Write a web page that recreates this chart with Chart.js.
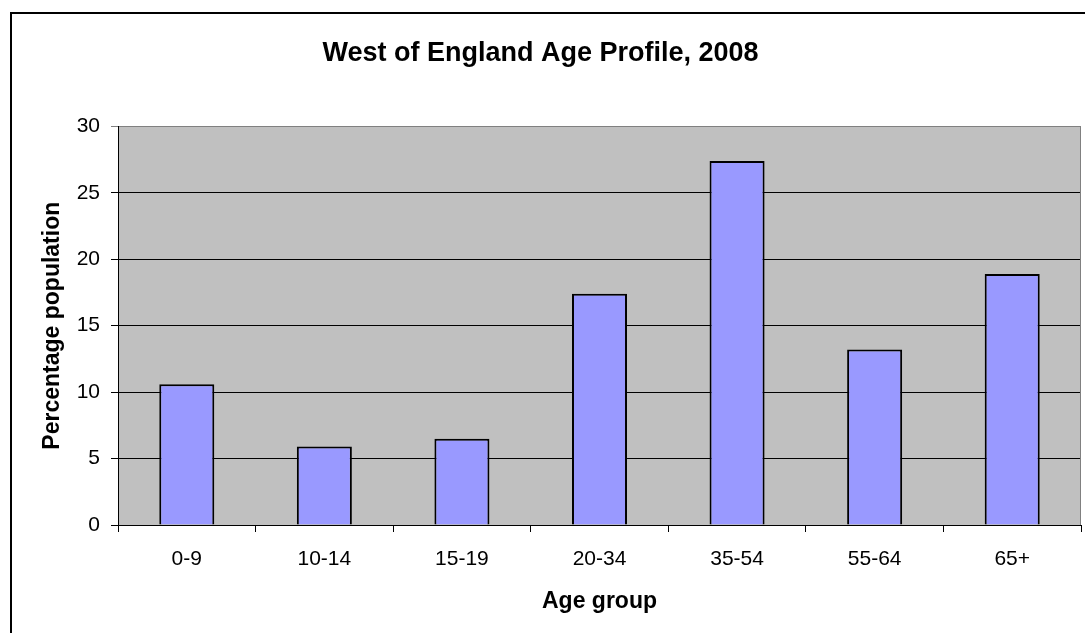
<!DOCTYPE html>
<html>
<head>
<meta charset="utf-8">
<script src="https://cdn.jsdelivr.net/npm/chart.js@4"></script>
<style>
  html, body { margin: 0; padding: 0; background: #fff; }
  #wrap { width: 1085px; height: 633px; }
</style>
</head>
<body>
<div id="wrap"><canvas id="ageChart"></canvas></div>
<script>
// data
const ageGroups = ["0-9", "10-14", "15-19", "20-34", "35-54", "55-64", "65+"];
const percentPopulation = [10.6, 5.9, 6.5, 17.4, 27.4, 13.2, 18.9];
const yTicks = { min: 0, max: 30, step: 5 };

const FONT = "Arial, 'Liberation Sans', sans-serif";

// grey plot background + outer frame, like the old office chart
const plotBackground = {
    id: "plotBackground",
    beforeDraw(chart) {
        const { ctx, chartArea: a } = chart;
        ctx.save();
        ctx.strokeStyle = "#000";
        ctx.lineWidth = 2;
        ctx.strokeRect(11, 13, 1200, 800);
        ctx.fillStyle = "#C0C0C0";
        ctx.fillRect(a.left, a.top, a.right - a.left, a.bottom - a.top);
        ctx.restore();
    },
    afterDatasetsDraw(chart) {
        const { ctx, chartArea: a } = chart;
        ctx.save();
        ctx.strokeStyle = "#808080";
        ctx.lineWidth = 1;
        ctx.beginPath();
        ctx.moveTo(a.right - 0.5, a.top);
        ctx.lineTo(a.right - 0.5, a.bottom);
        ctx.stroke();
        ctx.restore();
    },
};

new Chart(document.getElementById("ageChart"), {
    type: "bar",
    data: {
        labels: ageGroups,
        datasets: [
            {
                label: "Percentage population",
                data: percentPopulation,
                backgroundColor: "#9999FF",
                borderColor: "#000",
                borderWidth: 2,
                barPercentage: 0.4,
                categoryPercentage: 1,
            },
        ],
    },
    options: {
        responsive: true,
        maintainAspectRatio: false,
        animation: false,
        layout: { padding: { left: 0, right: 4, top: 0, bottom: 0 } },
        plugins: {
            legend: { display: false },
            tooltip: { enabled: false },
            title: {
                display: true,
                text: "West of England Age Profile, 2008",
                color: "#000",
                font: { family: FONT, size: 27, weight: "bold" },
                padding: { top: 37, bottom: 57 },
            },
        },
        scales: {
            x: {
                afterFit: (scale) => { scale.height = 108; },
                grid: {
                    drawOnChartArea: false,
                    color: "#000",
                    tickLength: 7,
                },
                border: { color: "#000", width: 1 },
                ticks: {
                    color: "#000",
                    font: { family: FONT, size: 21 },
                    padding: 15,
                },
                title: {
                    display: true,
                    text: "Age group",
                    color: "#000",
                    font: { family: FONT, size: 23, weight: "bold" },
                    padding: { top: 0, bottom: 18 },
                },
            },
            y: {
                min: yTicks.min,
                max: yTicks.max,
                afterFit: (scale) => { scale.width = 118; },
                grid: {
                    color: (c) => (c.tick && c.tick.value === yTicks.max ? "#808080" : "#000"),
                    tickLength: 7,
                },
                border: { color: "#000", width: 1 },
                ticks: {
                    stepSize: yTicks.step,
                    color: "#000",
                    font: { family: FONT, size: 21 },
                    padding: 11,
                },
                title: {
                    display: true,
                    text: "Percentage population",
                    color: "#000",
                    font: { family: FONT, size: 23, weight: "bold" },
                    padding: { top: 39, bottom: 0 },
                },
            },
        },
    },
    plugins: [plotBackground],
});
</script>
</body>
</html>
